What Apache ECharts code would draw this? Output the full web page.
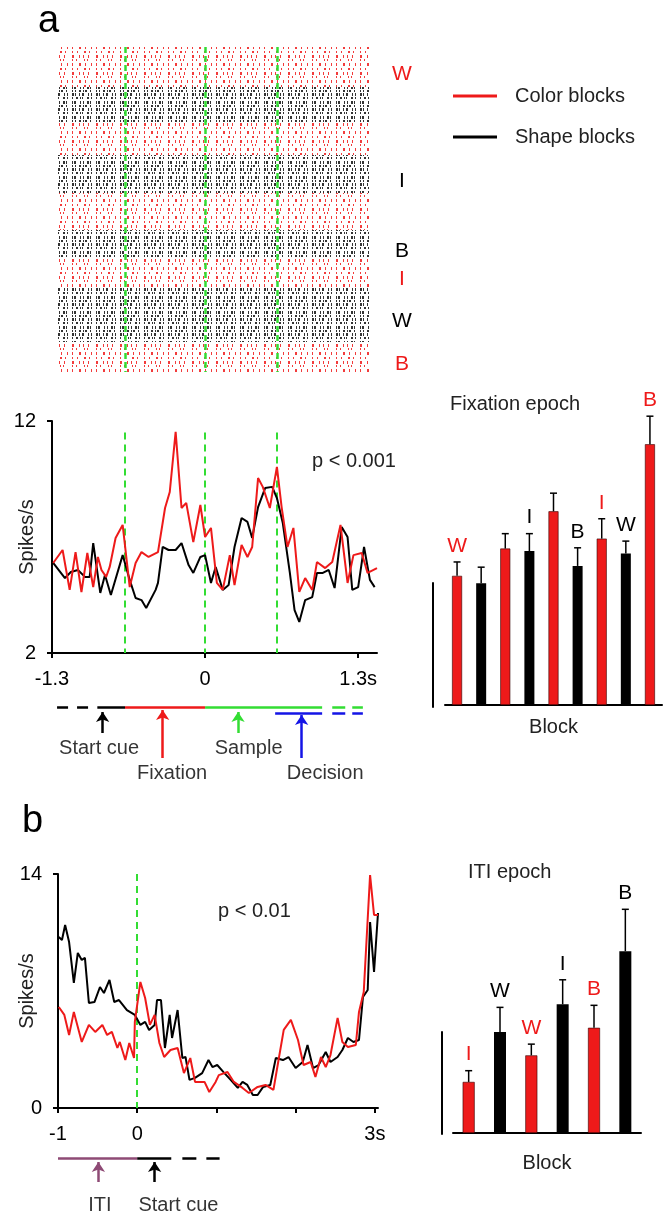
<!DOCTYPE html>
<html>
<head>
<meta charset="utf-8">
<script src="https://cdn.jsdelivr.net/npm/echarts@6/dist/echarts.min.js"></script>
<style>
html, body { margin: 0; padding: 0; background: #fff; }
#main { width: 671px; height: 1214px; }
</style>
</head>
<body>
<div id="main"></div>
<script>
// blocks, in the order of the raster rows and of the fixation-epoch bars
var blockTypes = ['color', 'shape', 'color', 'shape', 'color', 'shape', 'color', 'shape', 'color'];
var blockLetters = ['W', '', '', 'I', '', 'B', 'I', 'W', 'B'];
var blockTrials = [40, 36, 32, 38, 37, 28, 29, 55, 30];
var epochLinesA = [-0.68, 0, 0.61];

// panel a, firing rate [time s, spikes/s]
var colorA = [[-1.29,5.88],[-1.21,6.44],[-1.15,4.72],[-1.10,6.35],[-1.05,4.63],[-1.00,6.31],[-0.95,4.84],[-0.91,6.14],[-0.88,5.58],[-0.84,5.28],[-0.81,5.71],[-0.76,6.96],[-0.70,7.52],[-0.64,4.84],[-0.59,5.88],[-0.54,6.35],[-0.48,6.14],[-0.40,6.35],[-0.34,8.25],[-0.30,8.94],[-0.25,11.53],[-0.20,8.25],[-0.16,8.47],[-0.10,6.78],[-0.04,8.38],[0.00,7.00],[0.05,7.39],[0.10,5.02],[0.15,4.72],[0.21,6.22],[0.25,4.93],[0.31,6.66],[0.36,6.14],[0.40,6.57],[0.45,9.54],[0.49,9.16],[0.55,8.25],[0.61,10.02],[0.65,8.29],[0.70,6.57],[0.75,7.39],[0.80,4.63],[0.85,5.23],[0.91,4.72],[0.95,5.92],[1.02,5.66],[1.08,5.92],[1.15,7.52],[1.21,5.02],[1.26,6.22],[1.33,6.31],[1.38,5.45],[1.46,5.66]];
var shapeA = [[-1.29,5.88],[-1.19,5.23],[-1.14,5.49],[-1.08,5.58],[-1.02,5.28],[-0.98,5.28],[-0.95,6.74],[-0.89,4.59],[-0.85,5.36],[-0.80,4.50],[-0.70,6.22],[-0.64,5.15],[-0.59,4.37],[-0.54,4.28],[-0.50,3.94],[-0.42,4.72],[-0.40,5.02],[-0.36,6.57],[-0.31,6.44],[-0.25,6.44],[-0.20,6.74],[-0.14,5.79],[-0.10,5.45],[-0.04,6.14],[0.00,6.22],[0.05,5.02],[0.09,5.71],[0.15,4.72],[0.20,4.93],[0.25,6.57],[0.31,7.82],[0.36,7.65],[0.40,6.96],[0.45,8.29],[0.51,9.11],[0.57,9.16],[0.61,8.68],[0.66,7.60],[0.72,5.45],[0.76,3.85],[0.80,3.34],[0.85,4.28],[0.91,4.41],[0.95,5.45],[1.00,5.45],[1.05,5.58],[1.10,4.80],[1.16,7.43],[1.21,7.00],[1.25,4.72],[1.30,4.84],[1.35,6.57],[1.40,5.15],[1.44,4.84]];

// fixation epoch bars (spikes/s, upper error)
var fixMeans = [5.2, 4.9, 6.3, 6.2, 7.8, 5.6, 6.7, 6.1, 10.5];
var fixErrs = [0.56, 0.65, 0.6, 0.7, 0.73, 0.73, 0.8, 0.5, 1.13];

// panel a task timeline (s)
var leadA = [-1.257, -0.99];
var startCueA = [-0.915, -0.68];
var fixationA = [-0.68, 0];
var sampleA = [0, 0.994];
var decisionA = [0.595, 0.994];
var tailA = [1.08, 1.34];
var arrowTimesA = [-0.87, -0.36, 0.28, 0.82];
var eventNamesA = ['Start cue', 'Fixation', 'Sample', 'Decision'];
var eventLabelTimesA = [-0.90, -0.28, 0.37, 1.02];

// panel b, firing rate [time s, spikes/s]
var colorB = [[-0.99,6.04],[-0.92,5.57],[-0.86,4.37],[-0.80,5.75],[-0.70,3.95],[-0.61,4.97],[-0.53,4.55],[-0.44,4.97],[-0.38,4.37],[-0.32,4.55],[-0.25,3.59],[-0.22,3.95],[-0.15,2.87],[-0.10,3.89],[-0.04,2.99],[-0.03,5.15],[0.04,7.54],[0.10,6.58],[0.16,4.97],[0.22,5.57],[0.28,3.89],[0.34,3.05],[0.42,3.47],[0.51,3.59],[0.59,2.09],[0.67,2.99],[0.73,1.56],[0.85,1.56],[0.91,0.96],[0.99,1.56],[1.03,1.97],[1.14,2.15],[1.22,1.56],[1.33,1.20],[1.41,0.90],[1.52,1.26],[1.62,1.38],[1.72,1.08],[1.78,2.75],[1.85,4.67],[1.94,5.27],[2.03,4.07],[2.10,2.57],[2.19,2.75],[2.25,1.86],[2.32,3.05],[2.38,2.45],[2.44,3.17],[2.53,5.39],[2.59,3.95],[2.66,3.65],[2.76,3.77],[2.80,5.75],[2.86,6.94],[2.94,13.94],[2.99,11.55],[3.04,11.55]];
var shapeB = [[-0.99,10.23],[-0.95,10.05],[-0.91,10.95],[-0.86,9.93],[-0.80,7.48],[-0.75,9.28],[-0.70,8.86],[-0.66,8.98],[-0.61,6.28],[-0.54,6.34],[-0.47,7.24],[-0.42,6.88],[-0.35,7.66],[-0.29,6.34],[-0.23,6.46],[-0.13,5.86],[-0.03,5.57],[0.04,4.97],[0.10,5.15],[0.15,4.67],[0.22,4.97],[0.25,6.46],[0.30,6.46],[0.35,3.59],[0.41,5.57],[0.44,4.19],[0.51,5.86],[0.57,2.99],[0.61,3.05],[0.66,1.68],[0.73,1.80],[0.82,2.09],[0.90,2.87],[0.95,2.45],[1.01,2.57],[1.09,2.15],[1.18,1.68],[1.27,1.20],[1.33,1.56],[1.39,1.38],[1.46,0.78],[1.52,0.78],[1.59,1.26],[1.68,1.38],[1.75,2.99],[1.84,2.87],[1.91,3.05],[2.00,2.39],[2.09,2.75],[2.15,3.77],[2.22,2.39],[2.29,2.57],[2.38,3.35],[2.44,2.75],[2.53,3.05],[2.59,3.47],[2.66,4.19],[2.73,3.95],[2.80,4.07],[2.85,6.64],[2.91,7.06],[2.94,11.13],[2.99,8.14],[3.04,11.67]];

// ITI epoch bars
var itiTypes = ['color', 'shape', 'color', 'shape', 'color', 'shape'];
var itiLetters = ['I', 'W', 'W', 'I', 'B', 'B'];
var itiMeans = [2.5, 4.95, 3.8, 6.3, 5.15, 8.9];
var itiErrs = [0.55, 1.2, 0.55, 1.2, 1.1, 2.05];

// panel b task timeline (s)
var itiB = [-1, 0];
var startCueB = [0, 0.43];
var tailB = [0.57, 1.04];
var arrowTimesB = [-0.49, 0.22];
var eventNamesB = ['ITI', 'Start cue'];
var eventLabelTimesB = [-0.47, 0.52];

var RED = '#ee1a1a', BLACK = '#000', GREEN = '#33dd33', BLUE = '#1414e6', PURPLE = '#8e4a75';
var FONT = '"Liberation Sans", Arial, sans-serif';

function typeColor(t) { return t === 'color' ? RED : BLACK; }

// speckle texture standing in for the spike ticks of the raster
var redDecal = {
  symbol: 'rect', symbolSize: 1, symbolKeepAspect: false, color: '#f23c3c',
  dashArrayX: [[1, 4, 1, 6, 2, 3, 1, 6], [2, 5, 1, 3, 1, 4, 1, 7], [1, 3, 1, 7, 1, 2, 1, 8], [1, 6, 2, 4, 1, 5, 1, 4]],
  dashArrayY: [2, 2, 3, 1, 2, 2, 3, 2]
};
var blackDecal = {
  symbol: 'rect', symbolSize: 1, symbolKeepAspect: false, color: '#333',
  dashArrayX: [[1, 2, 1, 3, 2, 2, 1, 1, 2, 3, 1, 5], [2, 1, 1, 3, 1, 2, 2, 4, 1, 2, 1, 4], [1, 3, 2, 2, 1, 1, 1, 4, 2, 2, 1, 4], [1, 1, 2, 4, 1, 2, 1, 3, 2, 1, 1, 5]],
  dashArrayY: [2, 1, 3, 1, 2, 2, 3, 1]
};

var chart = echarts.init(document.getElementById('main'));

function hiddenValue(grid, min, max, inverse) {
  return { gridIndex: grid, type: 'value', min: min, max: max, inverse: !!inverse, show: false };
}
var axisLine = { show: true, onZero: false, lineStyle: { color: '#000', width: 2 } };
var axisTick = { show: true, length: 5, lineStyle: { color: '#000', width: 2 } };
var labelStyle = { color: '#000', fontSize: 20, fontFamily: FONT };
var nameStyle = { color: '#222', fontSize: 20, fontFamily: FONT };

function seg(range, level) { return { coords: [[range[0], level], [range[1], level]] }; }

function timelineSeries(xi, yi, items) {
  return items.map(function (it) {
    return {
      type: 'lines', coordinateSystem: 'cartesian2d', xAxisIndex: xi, yAxisIndex: yi,
      symbol: it.arrow ? ['none', 'arrow'] : 'none', symbolSize: 10, silent: true,
      lineStyle: { color: it.color, width: 2.5, type: it.dash || 'solid', opacity: 1 },
      data: [it.data]
    };
  });
}

function eventLabels(xi, yi, names, times, level) {
  return {
    type: 'scatter', xAxisIndex: xi, yAxisIndex: yi, symbolSize: 0, silent: true,
    label: { show: true, position: 'inside', formatter: '{b}', color: '#000', fontSize: 20, fontFamily: FONT },
    data: names.map(function (n, i) { return { name: n, value: [times[i], level] }; })
  };
}

function errorSeries(xi, yi, means, errs, types, letters) {
  return {
    type: 'custom', xAxisIndex: xi, yAxisIndex: yi, silent: true, z: 5,
    data: means.map(function (m, i) { return [i, m, errs[i]]; }),
    renderItem: function (params, api) {
      var i = params.dataIndex;
      var base = api.coord([api.value(0), api.value(1)]);
      var top = api.coord([api.value(0), api.value(1) + api.value(2)]);
      var kids = [
        { type: 'line', shape: { x1: base[0], y1: base[1], x2: top[0], y2: top[1] }, style: { stroke: '#000', lineWidth: 1.5 } },
        { type: 'line', shape: { x1: top[0] - 3.5, y1: top[1], x2: top[0] + 3.5, y2: top[1] }, style: { stroke: '#000', lineWidth: 1.5 } }
      ];
      if (letters[i]) {
        kids.push({
          type: 'text', x: top[0], y: top[1] - 16,
          style: { text: letters[i], fill: typeColor(types[i]), fontSize: 21, fontFamily: FONT,
            align: 'center', verticalAlign: 'middle', textAlign: 'center', textVerticalAlign: 'middle' }
        });
      }
      return { type: 'group', children: kids };
    }
  };
}

function barSeries(xi, yi, means, types, width) {
  return {
    type: 'bar', xAxisIndex: xi, yAxisIndex: yi, barWidth: width, silent: true,
    data: means.map(function (m, i) {
      return { value: m, itemStyle: { color: typeColor(types[i]), borderColor: '#300', borderWidth: types[i] === 'color' ? 0.6 : 0 } };
    })
  };
}

var rasterSeries = blockTrials.map(function (n, i) {
  var c = typeColor(blockTypes[i]);
  return {
    type: 'bar', xAxisIndex: 0, yAxisIndex: 0, stack: 'raster', barWidth: '100%', silent: true,
    data: [n],
    itemStyle: { color: '#fff', decal: blockTypes[i] === 'color' ? redDecal : blackDecal },
    label: {
      show: !!blockLetters[i], position: 'right', distance: 32, offset: [0, 7], align: 'center',
      formatter: blockLetters[i], color: c, fontSize: 21, fontFamily: FONT
    }
  };
});

function fmtTick(v, edge) {
  return Math.abs(v - edge) < 1e-6 ? v + 's' : String(v);
}

var option = {
  animation: false,
  backgroundColor: '#fff',
  textStyle: { fontFamily: FONT },
  legend: {
    left: 453, top: 86, orient: 'vertical', padding: 0, itemGap: 21,
    itemWidth: 44, itemHeight: 3, icon: 'rect', selectedMode: false,
    textStyle: { color: '#222', fontSize: 20, fontFamily: FONT, padding: [0, 0, 0, 13] },
    data: ['Color blocks', 'Shape blocks']
  },
  graphic: [
    { type: 'text', left: 38, top: 3, style: { text: 'a', fontSize: 38, fontFamily: FONT, fill: '#000' } },
    { type: 'text', left: 22, top: 803, style: { text: 'b', fontSize: 38, fontFamily: FONT, fill: '#000' } },
    { type: 'text', left: 312, top: 451, style: { text: 'p < 0.001', fontSize: 20, fontFamily: FONT, fill: '#222' } },
    { type: 'text', left: 218, top: 901, style: { text: 'p < 0.01', fontSize: 20, fontFamily: FONT, fill: '#222' } },
    { type: 'text', left: 450, top: 394, style: { text: 'Fixation epoch', fontSize: 20, fontFamily: FONT, fill: '#222' } },
    { type: 'text', left: 468, top: 862, style: { text: 'ITI epoch', fontSize: 20, fontFamily: FONT, fill: '#222' } }
  ],
  grid: [
    { left: 57, top: 47, width: 313, height: 325, outerBoundsMode: 'none' },
    { left: 52, top: 421, width: 325, height: 232, outerBoundsMode: 'none' },
    { left: 52, top: 700, width: 325, height: 80, outerBoundsMode: 'none' },
    { left: 445, top: 407, width: 217, height: 298, outerBoundsMode: 'none' },
    { left: 433, top: 583, width: 1, height: 124, outerBoundsMode: 'none' },
    { left: 58, top: 874, width: 320, height: 234, outerBoundsMode: 'none' },
    { left: 58, top: 1150, width: 320, height: 64, outerBoundsMode: 'none' },
    { left: 453, top: 847, width: 188, height: 286, outerBoundsMode: 'none' },
    { left: 442, top: 1032, width: 1, height: 102, outerBoundsMode: 'none' }
  ],
  xAxis: [
    { gridIndex: 0, type: 'category', data: ['trials'], show: false },
    hiddenValue(0, -1.26, 1.40),
    {
      gridIndex: 1, type: 'value', min: -1.3, max: 1.46, splitLine: { show: false },
      axisLine: axisLine,
      axisTick: Object.assign({ customValues: [-1.3, 0, 1.3] }, axisTick),
      axisLabel: Object.assign({ customValues: [-1.3, 0, 1.3], margin: 16, formatter: function (v) { return fmtTick(v, 1.3); } }, labelStyle)
    },
    hiddenValue(2, -1.3, 1.46),
    {
      gridIndex: 3, type: 'category', data: blockTypes.map(function (t, i) { return 'a' + i; }),
      axisLine: axisLine, axisTick: { show: false }, axisLabel: { show: false },
      name: 'Block', nameLocation: 'middle', nameGap: 12, nameMoveOverlap: false, nameTextStyle: nameStyle
    },
    hiddenValue(4, 0, 1),
    {
      gridIndex: 5, type: 'value', min: -1, max: 3.04, splitLine: { show: false },
      axisLine: axisLine,
      axisTick: Object.assign({ customValues: [-1, 0, 1, 2, 3] }, axisTick),
      axisLabel: Object.assign({ customValues: [-1, 0, 3], margin: 16, formatter: function (v) { return fmtTick(v, 3); } }, labelStyle)
    },
    hiddenValue(6, -1, 3.04),
    {
      gridIndex: 7, type: 'category', data: itiTypes.map(function (t, i) { return 'b' + i; }),
      axisLine: axisLine, axisTick: { show: false }, axisLabel: { show: false },
      name: 'Block', nameLocation: 'middle', nameGap: 20, nameMoveOverlap: false, nameTextStyle: nameStyle
    },
    hiddenValue(8, 0, 1)
  ],
  yAxis: [
    hiddenValue(0, 0, 325, true),
    {
      gridIndex: 1, type: 'value', min: 2, max: 12, interval: 10, splitLine: { show: false },
      axisLine: axisLine, axisTick: axisTick,
      axisLabel: Object.assign({ margin: 16 }, labelStyle),
      name: 'Spikes/s', nameLocation: 'middle', nameGap: 15, nameMoveOverlap: false, nameTextStyle: nameStyle
    },
    hiddenValue(2, 0, 80, true),
    hiddenValue(3, 0, 12),
    { gridIndex: 4, type: 'value', min: 0, max: 5, splitLine: { show: false }, axisLine: axisLine, axisTick: { show: false }, axisLabel: { show: false } },
    {
      gridIndex: 5, type: 'value', min: 0, max: 14, interval: 14, splitLine: { show: false },
      axisLine: axisLine, axisTick: axisTick,
      axisLabel: Object.assign({ margin: 16 }, labelStyle),
      name: 'Spikes/s', nameLocation: 'middle', nameGap: 21, nameMoveOverlap: false, nameTextStyle: nameStyle
    },
    hiddenValue(6, 0, 64, true),
    hiddenValue(7, 0, 14),
    { gridIndex: 8, type: 'value', min: 0, max: 5, splitLine: { show: false }, axisLine: axisLine, axisTick: { show: false }, axisLabel: { show: false } }
  ],
  series: [].concat(
    rasterSeries,
    [{
      type: 'lines', coordinateSystem: 'cartesian2d', xAxisIndex: 1, yAxisIndex: 0, silent: true, z: 4,
      lineStyle: { color: GREEN, width: 2.5, type: [6, 3], opacity: 1 },
      data: epochLinesA.map(function (t) { return { coords: [[t, 0], [t, 325]] }; })
    }, {
      type: 'lines', coordinateSystem: 'cartesian2d', xAxisIndex: 2, yAxisIndex: 1, silent: true,
      lineStyle: { color: GREEN, width: 2, type: [7, 5], opacity: 1 },
      data: epochLinesA.map(function (t) { return { coords: [[t, 11.5], [t, 2]] }; })
    }, {
      name: 'Shape blocks', type: 'line', xAxisIndex: 2, yAxisIndex: 1, data: shapeA, showSymbol: false,
      color: BLACK, lineStyle: { color: BLACK, width: 2 }, silent: true
    }, {
      name: 'Color blocks', type: 'line', xAxisIndex: 2, yAxisIndex: 1, data: colorA, showSymbol: false,
      color: RED, lineStyle: { color: RED, width: 2 }, silent: true
    }],
    timelineSeries(3, 2, [
      { color: BLACK, dash: [11, 9], data: seg(leadA, 7) },
      { color: BLACK, data: seg(startCueA, 7) },
      { color: RED, data: seg(fixationA, 7) },
      { color: GREEN, data: seg(sampleA, 7) },
      { color: GREEN, dash: [13, 7], data: seg(tailA, 7) },
      { color: BLUE, data: seg(decisionA, 13) },
      { color: BLUE, dash: [13, 7], data: seg(tailA, 13) },
      { color: BLACK, arrow: true, data: { coords: [[arrowTimesA[0], 33], [arrowTimesA[0], 12]] } },
      { color: RED, arrow: true, data: { coords: [[arrowTimesA[1], 58], [arrowTimesA[1], 10]] } },
      { color: GREEN, arrow: true, data: { coords: [[arrowTimesA[2], 33], [arrowTimesA[2], 12]] } },
      { color: BLUE, arrow: true, data: { coords: [[arrowTimesA[3], 58], [arrowTimesA[3], 15]] } }
    ]),
    [
      eventLabels(3, 2, [eventNamesA[0], eventNamesA[2]], [eventLabelTimesA[0], eventLabelTimesA[2]], 48),
      eventLabels(3, 2, [eventNamesA[1], eventNamesA[3]], [eventLabelTimesA[1], eventLabelTimesA[3]], 73),
      barSeries(4, 3, fixMeans, blockTypes, 10),
      errorSeries(4, 3, fixMeans, fixErrs, blockTypes, blockLetters),
      {
        type: 'lines', coordinateSystem: 'cartesian2d', xAxisIndex: 6, yAxisIndex: 5, silent: true,
        lineStyle: { color: GREEN, width: 2, type: [7, 5], opacity: 1 },
        data: [{ coords: [[0, 14], [0, 0]] }]
      }, {
        name: 'Shape blocks', type: 'line', xAxisIndex: 6, yAxisIndex: 5, data: shapeB, showSymbol: false,
        color: BLACK, lineStyle: { color: BLACK, width: 2 }, silent: true
      }, {
        name: 'Color blocks', type: 'line', xAxisIndex: 6, yAxisIndex: 5, data: colorB, showSymbol: false,
        color: RED, lineStyle: { color: RED, width: 2 }, silent: true
      }
    ],
    timelineSeries(7, 6, [
      { color: PURPLE, data: seg(itiB, 8) },
      { color: BLACK, data: seg(startCueB, 8) },
      { color: BLACK, dash: [14, 10], data: seg(tailB, 8) },
      { color: PURPLE, arrow: true, data: { coords: [[arrowTimesB[0], 32], [arrowTimesB[0], 12]] } },
      { color: BLACK, arrow: true, data: { coords: [[arrowTimesB[1], 32], [arrowTimesB[1], 12]] } }
    ]),
    [
      eventLabels(7, 6, eventNamesB, eventLabelTimesB, 55),
      barSeries(8, 7, itiMeans, itiTypes, 12),
      errorSeries(8, 7, itiMeans, itiErrs, itiTypes, itiLetters)
    ]
  )
};

chart.setOption(option);
</script>
</body>
</html>
